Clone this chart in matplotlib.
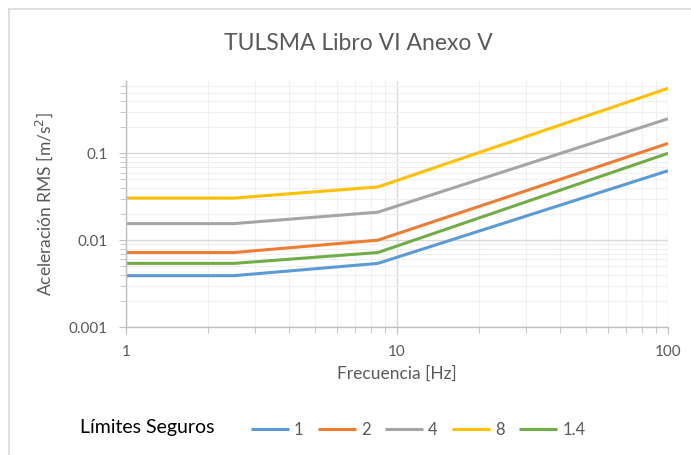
import matplotlib
matplotlib.use("Agg")
import matplotlib.pyplot as plt
from matplotlib.lines import Line2D
from matplotlib.ticker import LogLocator, FuncFormatter, NullFormatter

plt.rcParams['font.family'] = ['Lato', 'DejaVu Sans']

# breakpoints of the limit curves (Hz)
freq = [1, 2.5, 8.5, 100]

# RMS acceleration limits [m/s2] per series
lim_1 = [0.0039, 0.0039, 0.0054, 0.063]
lim_2 = [0.0072, 0.0072, 0.0100, 0.130]
lim_4 = [0.0155, 0.0155, 0.0210, 0.250]
lim_8 = [0.0305, 0.0305, 0.0410, 0.560]
lim_14 = [0.0054, 0.0054, 0.0072, 0.100]

labels = ['1', '2', '4', '8', '1.4']
colors = ['#5B9BD5', '#ED7D31', '#A5A5A5', '#FFC000', '#70AD47']
series = [lim_1, lim_2, lim_4, lim_8, lim_14]

grey_txt = '#595959'

fig = plt.figure(figsize=(6.91, 4.55), dpi=100)
ax = fig.add_axes([126 / 691, 1 - 327 / 455, (668 - 126) / 691, (327 - 81) / 455])

for vals, c, lab in zip(series, colors, labels):
    ax.plot(freq, vals, color=c, lw=2.2, label=lab, solid_capstyle='butt')

ax.set_xscale('log')
ax.set_yscale('log')
ax.set_xlim(1, 100)
ax.set_ylim(0.001, 0.68)

ax.xaxis.set_major_locator(LogLocator(base=10, numticks=10))
ax.yaxis.set_major_locator(LogLocator(base=10, numticks=10))
ax.xaxis.set_minor_locator(LogLocator(base=10, subs=range(2, 10), numticks=20))
ax.yaxis.set_minor_locator(LogLocator(base=10, subs=range(2, 10), numticks=20))
ax.xaxis.set_major_formatter(FuncFormatter(lambda v, p: f'{v:g}'))
ax.yaxis.set_major_formatter(FuncFormatter(lambda v, p: f'{v:g}'))
ax.xaxis.set_minor_formatter(NullFormatter())
ax.yaxis.set_minor_formatter(NullFormatter())

ax.grid(which='major', color='#D9D9D9', lw=1.0)
ax.grid(which='minor', color='#F0F0F0', lw=0.8)
ax.set_axisbelow(True)

for s in ['top', 'right']:
    ax.spines[s].set_visible(False)
for s in ['left', 'bottom']:
    ax.spines[s].set_color('#BFBFBF')
    ax.spines[s].set_linewidth(1.0)

ax.tick_params(which='both', colors='#BFBFBF', labelcolor=grey_txt, labelsize=11)
ax.tick_params(which='major', length=5, pad=8)
ax.tick_params(which='minor', length=4)

ax.set_xlabel('Frecuencia [Hz]', color=grey_txt, fontsize=12.5, labelpad=5)
ax.set_ylabel('Aceleración RMS [m/s$^2$]', color=grey_txt, fontsize=12.5, labelpad=10)

fig.text(358 / 691, 1 - 43 / 455, 'TULSMA Libro VI Anexo V', ha='center', va='center',
         fontsize=16.5, color=grey_txt)

# legend
fig.text(80 / 691, 1 - 428 / 455, 'Límites Seguros', ha='left', va='center',
         fontsize=14, color='black')
fig.legend(loc='center', bbox_to_anchor=(418 / 691, 1 - 430 / 455), ncol=5, frameon=False,
           fontsize=12, handlelength=2.3, handletextpad=0.3, columnspacing=0.85,
           labelcolor=grey_txt)

# chart area border (cropped on right and bottom)
fig.add_artist(Line2D([8.5 / 691, 1], [1 - 8.5 / 455, 1 - 8.5 / 455], color='#D9D9D9', lw=1.2,
                      transform=fig.transFigure))
fig.add_artist(Line2D([8.5 / 691, 8.5 / 691], [0, 1 - 8.5 / 455], color='#D9D9D9', lw=1.2,
                      transform=fig.transFigure))

fig.savefig('out.png', dpi=100)
